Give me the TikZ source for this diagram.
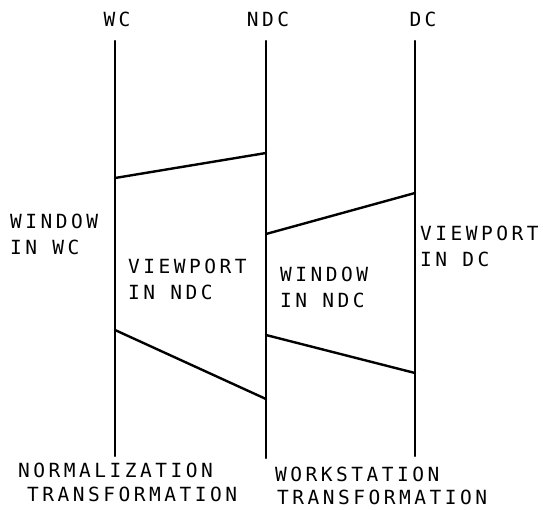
\documentclass[tikz,border=0pt]{standalone}
\usepackage{fontspec}
\newfontfamily\plotfont[LetterSpace=18]{DejaVu Sans Mono}
\begin{document}
\begin{tikzpicture}[x=1pt,y=-1pt,
  lbl/.style={inner sep=0pt, anchor=base west, font=\plotfont\fontsize{19.5}{25}\selectfont},
  lblc/.style={lbl, anchor=base},
  axisline/.style={line width=2.4pt, line cap=round},
  mapline/.style={line width=2.4pt, line cap=round}]
\useasboundingbox (0,0) rectangle (543,509);
% axes
\coordinate (wct) at (115,41); \coordinate (wcb) at (115,456);
\coordinate (ndct) at (266,41); \coordinate (ndcb) at (266,458);
\coordinate (dct) at (415,41); \coordinate (dcb) at (415,456);
\draw[axisline] (wct) -- (wcb);
\draw[axisline] (ndct) -- (ndcb);
\draw[axisline] (dct) -- (dcb);
% mapping lines
\coordinate (w1) at (115,178); \coordinate (n1) at (266,153);
\coordinate (n2) at (266,234); \coordinate (d2) at (415,193);
\coordinate (w3) at (115,330); \coordinate (n3) at (266,399);
\coordinate (n4) at (266,335); \coordinate (d4) at (415,373);
\draw[mapline] (w1) -- (n1);
\draw[mapline] (n2) -- (d2);
\draw[mapline] (w3) -- (n3);
\draw[mapline] (n4) -- (d4);
% top labels
\node[lblc] (wc) at (117,26) {WC};
\node[lblc] (ndc) at (268,26) {NDC};
\node[lblc] (dc) at (423,26) {DC};
% side labels
\node[lbl] (winwc1) at (10,228) {WINDOW};
\node[lbl] (winwc2) at (10,254) {IN WC};
\node[lbl] (vpndc1) at (128,273) {VIEWPORT};
\node[lbl] (vpndc2) at (128,299) {IN NDC};
\node[lbl] (winndc1) at (280,281) {WINDOW};
\node[lbl] (winndc2) at (280,307) {IN NDC};
\node[lbl] (vpdc1) at (420,240) {VIEWPORT};
\node[lbl] (vpdc2) at (420,266) {IN DC};
% bottom labels
\node[lbl] (norm1) at (18,477) {NORMALIZATION};
\node[lbl] (norm2) at (27,501) {TRANSFORMATION};
\node[lbl] (ws1) at (275,481) {WORKSTATION};
\node[lbl] (ws2) at (277,504) {TRANSFORMATION};
\end{tikzpicture}
\end{document}
